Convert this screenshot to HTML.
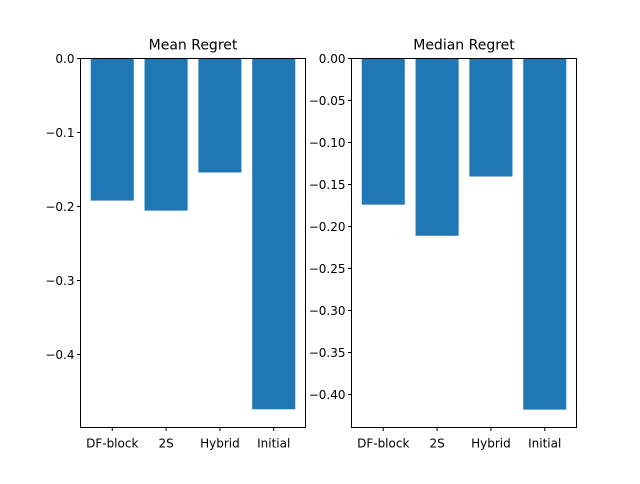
<!DOCTYPE html>
<html><head><meta charset="utf-8"><style>
body{margin:0;background:#fff;font-family:"DejaVu Sans","Liberation Sans",sans-serif;}
</style></head><body>
<svg id="chart" width="640" height="480" xmlns="http://www.w3.org/2000/svg" font-family="DejaVu Sans, Liberation Sans, sans-serif"></svg>
<script>
const categories = ["DF-block","2S","Hybrid","Initial"];
const meanValues = [-0.192, -0.2055, -0.154, -0.474];
const medianValues = [-0.174, -0.211, -0.1405, -0.418];
const meanTicks = [0, -0.1, -0.2, -0.3, -0.4];
const meanTickLabels = ["0.0","\u22120.1","\u22120.2","\u22120.3","\u22120.4"];
const medianTicks = [0,-0.05,-0.1,-0.15,-0.2,-0.25,-0.3,-0.35,-0.4];
const medianTickLabels = ["0.00","\u22120.05","\u22120.10","\u22120.15","\u22120.20","\u22120.25","\u22120.30","\u22120.35","\u22120.40"];

const svg = document.getElementById('chart');
const NS = "http://www.w3.org/2000/svg";
function mk(tag, attrs, parent){const e=document.createElementNS(NS,tag);for(const k in attrs)e.setAttribute(k,attrs[k]);(parent||svg).appendChild(e);return e;}

function panel(name, x0, x1, y0, y1, yMin, values, ticks, labels, title){
  const g = mk('g',{});
  
  
  const ylo = yMin, yhi = 0;
  const ys = v => y0 + (yhi - v)/(yhi - ylo)*(y1 - y0);
  const xlo = -0.59, xhi = categories.length - 1 + 0.59;
  const xs = v => x0 + (v - xlo)/(xhi - xlo)*(x1 - x0);
  values.forEach((v,i)=>{
    const r = mk('rect',{x:xs(i-0.4),y:ys(0),width:xs(i+0.4)-xs(i-0.4),height:ys(v)-ys(0),fill:'#1f77b4'},g);
    
    
  });
  mk('rect',{x:x0,y:y0,width:x1-x0,height:y1-y0,fill:'none',stroke:'#000','stroke-width':1},g);
  ticks.forEach((t,i)=>{
    const y = ys(t);
    mk('line',{x1:x0-3.5,x2:x0,y1:y,y2:y,stroke:'#000'},g);
    const tx = mk('text',{x:x0-6,y:y+4.5,'text-anchor':'end','font-size':12},g);
    tx.textContent = labels[i];
    
    
  });
  categories.forEach((c,i)=>{
    const x = xs(i);
    mk('line',{x1:x,x2:x,y1:y1,y2:y1+3.5,stroke:'#000'},g);
    const tx = mk('text',{x:x,y:y1+20,'text-anchor':'middle','font-size':12},g);
    tx.textContent = c;
    
    
  });
  const tt = mk('text',{x:(x0+x1)/2,y:y0-9,'text-anchor':'middle','font-size':14},g);
  tt.textContent = title;
  
  
}
panel('mean', 80.5, 305.5, 58.5, 427.5, -0.4986, meanValues, meanTicks, meanTickLabels, 'Mean Regret');
panel('median', 351.5, 576.5, 58.5, 427.5, -0.4393, medianValues, medianTicks, medianTickLabels, 'Median Regret');
</script>
</body></html>
